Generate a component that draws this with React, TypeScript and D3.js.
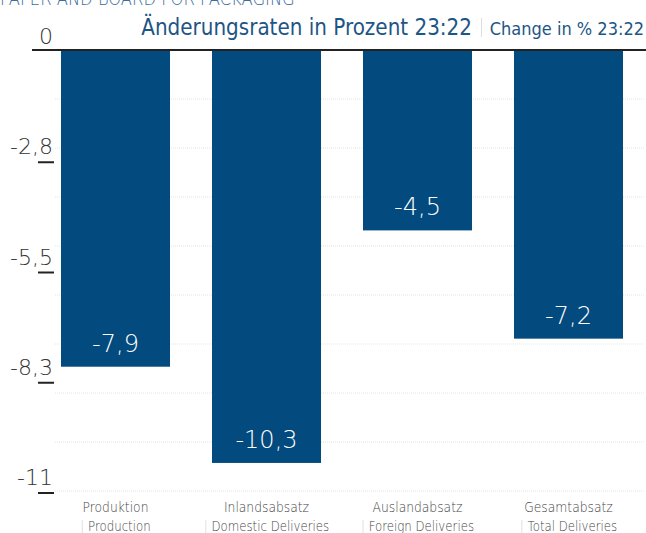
import React, { useEffect, useRef } from 'react'
import * as d3 from 'd3'

const categoriesDe = ['Produktion', 'Inlandsabsatz', 'Auslandabsatz', 'Gesamtabsatz']
const categoriesEn = ['Production', 'Domestic Deliveries', 'Foreign Deliveries', 'Total Deliveries']
const values = [-7.9, -10.3, -4.5, -7.2]
const tickValues = [0, -2.75, -5.5, -8.25, -11]
const tickLabels = ['0', '-2,8', '-5,5', '-8,3', '-11']

const FONT = '"DejaVu Sans", sans-serif'
const BLUE = '#034a7e'
const TITLE_BLUE = '#1d5585'

function styleText(sel: any, size: number, weight = 300) {
  return sel
    .style('font-family', FONT)
    .style('font-stretch', 'condensed')
    .style('font-weight', weight)
    .style('font-size', size + 'px')
}

// squeeze text a bit more, the original font is narrower than DejaVu Condensed
function squeeze(sel: any, factor: number) {
  sel.each(function (this: SVGTextElement) {
    const len = this.getComputedTextLength()
    d3.select(this)
      .attr('textLength', len * factor)
      .attr('lengthAdjust', 'spacingAndGlyphs')
  })
  return sel
}

function drawChart(el: SVGSVGElement) {
  const svg = d3.select(el)
  svg.selectAll('*').remove()

  const y = d3.scaleLinear().domain([0, -11]).range([50, 491])
  const x = d3.scaleBand<string>()
    .domain(categoriesDe)
    .range([40, 644])
    .paddingInner(0.278)
    .paddingOuter(0.139)

  // faint dotted gridlines
  const grid = d3.range(0, 10).map(i => (-11 * i) / 9)
  svg.append('g')
    .selectAll('line')
    .data(grid)
    .enter()
    .append('line')
    .attr('x1', 55).attr('x2', 644)
    .attr('y1', d => y(d)).attr('y2', d => y(d))
    .attr('stroke', '#e6e4d8')
    .attr('stroke-width', 1)
    .attr('stroke-dasharray', '1,1')

  // bars
  svg.append('g')
    .selectAll('rect')
    .data(values)
    .enter()
    .append('rect')
    .attr('x', (d, i) => x(categoriesDe[i]) as number)
    .attr('y', y(0))
    .attr('width', x.bandwidth())
    .attr('height', d => y(d) - y(0))
    .attr('fill', BLUE)

  // value labels
  styleText(svg.append('g')
    .selectAll('text')
    .data(values)
    .enter()
    .append('text')
    .attr('x', (d, i) => (x(categoriesDe[i]) as number) + x.bandwidth() / 2)
    .attr('y', d => y(d) - 15)
    .attr('text-anchor', 'middle')
    .attr('fill', '#fff'), 24, 200)
    .text(d => d3.format('.1f')(d).replace('.', ',').replace('−', '-'))

  // zero line
  svg.append('line')
    .attr('x1', 32).attr('x2', 646)
    .attr('y1', y(0)).attr('y2', y(0))
    .attr('stroke', '#222')
    .attr('stroke-width', 2)

  // y tick labels with underline marks
  const ticks = svg.append('g')
  tickValues.forEach((v, i) => {
    styleText(ticks.append('text')
      .attr('x', 53)
      .attr('y', y(v) - 6)
      .attr('text-anchor', 'end')
      .attr('fill', '#333'), 22, 200)
      .text(tickLabels[i])
    if (i > 0) {
      ticks.append('line')
        .attr('x1', 38).attr('x2', 54)
        .attr('y1', y(v) + 2).attr('y2', y(v) + 2)
        .attr('stroke', '#222')
        .attr('stroke-width', 2)
    }
  })

  // category labels
  const cat = svg.append('g')
  categoriesDe.forEach((c, i) => {
    const cx = (x(c) as number) + x.bandwidth() / 2
    squeeze(styleText(cat.append('text')
      .attr('x', cx)
      .attr('y', 512)
      .attr('text-anchor', 'middle')
      .attr('fill', '#444'), 14)
      .text(c), 0.88)
    const t = styleText(cat.append('text')
      .attr('x', cx)
      .attr('y', 531)
      .attr('text-anchor', 'middle'), 14)
    t.append('tspan').attr('fill', '#ccc').text('| ')
    t.append('tspan').attr('fill', '#444').text(categoriesEn[i])
    squeeze(t, 0.84)
  })

  // titles
  squeeze(styleText(svg.append('text')
    .attr('x', 0)
    .attr('y', 5)
    .attr('fill', '#3b6d9c'), 19)
    .text('PAPER AND BOARD FOR PACKAGING'), 0.86)

  squeeze(styleText(svg.append('text')
    .attr('x', 472)
    .attr('y', 35)
    .attr('text-anchor', 'end')
    .attr('fill', TITLE_BLUE), 23, 400)
    .text('Änderungsraten in Prozent 23:22'), 0.965)

  // thin separator between German and English title
  svg.append('line')
    .attr('x1', 481.5).attr('x2', 481.5)
    .attr('y1', 18).attr('y2', 37)
    .attr('stroke', '#ddd')
    .attr('stroke-width', 1)

  styleText(svg.append('text')
    .attr('x', 644)
    .attr('y', 35)
    .attr('text-anchor', 'end')
    .attr('fill', TITLE_BLUE), 18, 400)
    .text('Change in % 23:22')
}

const App = () => {
  const ref = useRef<SVGSVGElement>(null)
  useEffect(() => {
    if (ref.current) drawChart(ref.current)
  }, [])
  return (
    <svg ref={ref} width={646} height={533}
      style={{ position: 'absolute', left: 0, top: 0, background: '#fff' }} />
  )
}

export default App
